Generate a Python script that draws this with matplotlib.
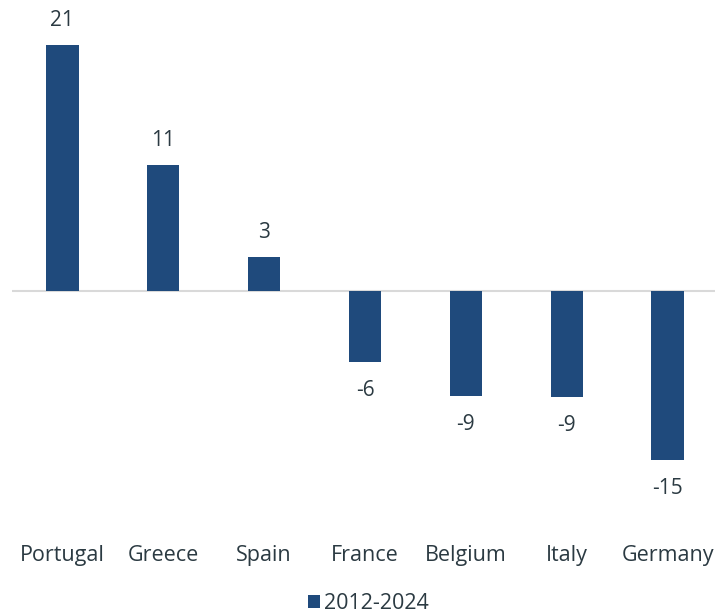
import matplotlib
matplotlib.use("Agg")
import matplotlib.pyplot as plt
import numpy as np

countries = ["Portugal", "Greece", "Spain", "France", "Belgium", "Italy", "Germany"]
change = [21.4, 11.0, 3.0, -6.2, -9.1, -9.2, -14.7]
series_name = "2012-2024"

bar_color = "#1f4a7c"
text_color = "#2b3a42"

plt.rcParams['font.family'] = ['Open Sans', 'DejaVu Sans']

fig = plt.figure(figsize=(7.15, 6.13), dpi=100)
# axes placed in pixel terms: left 12px, top 10px, bottom 540px
ax = fig.add_axes([12 / 715, 1 - 540 / 613, 703 / 715, 530 / 613])

x = np.arange(len(countries))
bars = ax.bar(x, change, width=0.32, color=bar_color, label=series_name, zorder=2)

# zero line
ax.axhline(0, color="#d9d9d9", linewidth=1.5, zorder=1)

# value labels
for xi, v in zip(x, change):
    if v >= 0:
        ax.annotate("%d" % round(v), (xi, v), xytext=(0, 10), textcoords="offset points",
                    ha="center", va="bottom", fontsize=15, color=text_color)
    else:
        ax.annotate("%d" % round(v), (xi, v), xytext=(0, -13), textcoords="offset points",
                    ha="center", va="top", fontsize=15, color=text_color)

ax.set_xlim(-0.5, 6.47)
ax.set_ylim(-(540 - 291) / 11.5, (291 - 10) / 11.5)
ax.set_xticks(x)
ax.set_xticklabels(countries, fontsize=15.5, color=text_color)
ax.tick_params(axis="x", length=0, pad=3.5)
ax.set_yticks([])
for s in ax.spines.values():
    s.set_visible(False)

fig.legend(loc="lower center", bbox_to_anchor=(0.515, -0.033), frameon=False, fontsize=15.5,
           handlelength=0.55, handleheight=0.55, handletextpad=0.2, labelcolor=text_color)

plt.savefig("out.png", dpi=100)
